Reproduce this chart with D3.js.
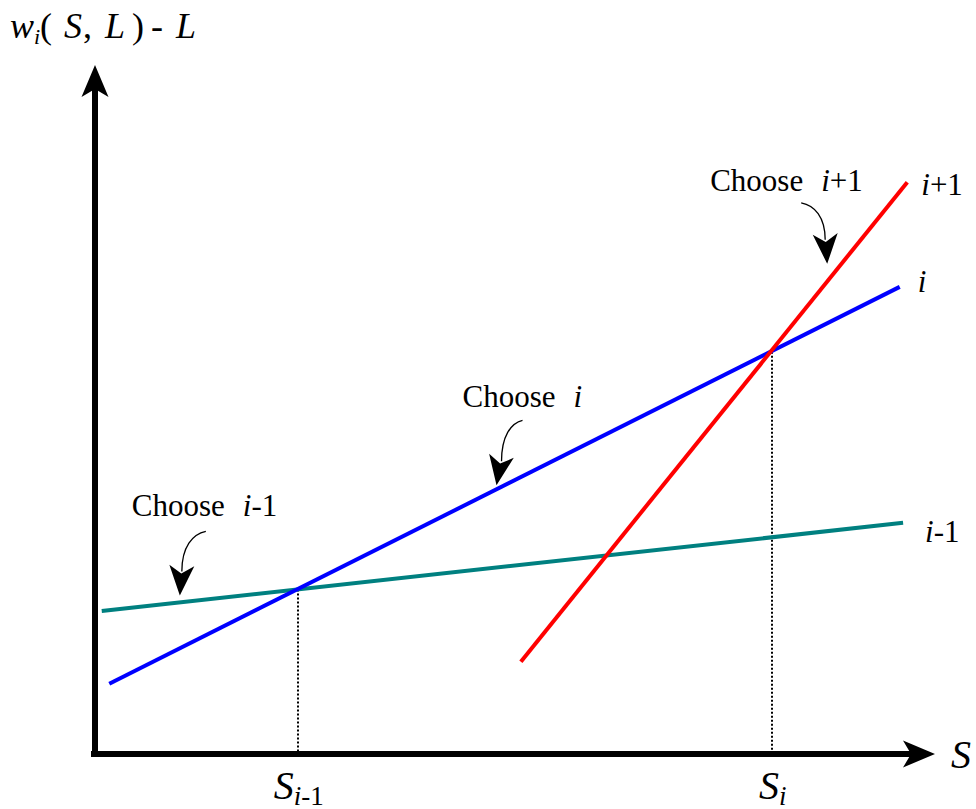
<!DOCTYPE html>
<html>
<head>
<meta charset="utf-8">
<script src="https://cdn.jsdelivr.net/npm/d3@7"></script>
<style>
  html, body { margin: 0; padding: 0; background: #fff; }
  svg { display: block; }
  text { font-family: "Liberation Serif", "Times New Roman", serif; fill: #000; }
</style>
</head>
<body>
<svg id="chart" width="976" height="809"></svg>
<script>
// ---------- data (abstract units) ----------
const seriesNames = ["i-1", "i", "i+1"];
const xStart = [0.08, 0.17, 5.07];
const xEnd   = [9.62, 9.58, 9.67];
const yStart = [2.075, 1.02, 1.34];
const yEnd   = [3.355, 6.78, 8.30];
const tickSubscripts = ["i-1", "i"];          // S_{i-1}, S_i at crossings
const crossingPairs = [[0, 1], [1, 2]];
const calloutSeries = [0, 1, 2];              // "Choose ..." callouts
const calloutX = [1.01, 4.78, 8.8];

// ---------- styles ----------
const colors = ["#008080", "#0000ff", "#ff0000"];

const svg = d3.select("#chart");
const x = d3.scaleLinear().domain([0, 10]).range([95, 935]);
const y = d3.scaleLinear().domain([0, 10]).range([754, 65]);

const lines = seriesNames.map((n, i) => ({
  name: n, x0: xStart[i], x1: xEnd[i], y0: yStart[i], y1: yEnd[i],
  m: (yEnd[i] - yStart[i]) / (xEnd[i] - xStart[i])
}));
lines.forEach(l => { l.b = l.y0 - l.m * l.x0; });
const valAt = (l, xv) => l.m * xv + l.b;

// ---------- crossings (dotted drop lines) ----------
const crossings = crossingPairs.map(([a, b], k) => {
  const la = lines[a], lb = lines[b];
  const xv = (lb.b - la.b) / (la.m - lb.m);
  return { x: xv, y: valAt(la, xv), sub: tickSubscripts[k] };
});

svg.selectAll("line.drop").data(crossings).join("line")
  .attr("class", "drop")
  .attr("x1", d => Math.round(x(d.x)) + 1).attr("x2", d => Math.round(x(d.x)) + 1)
  .attr("y1", d => y(d.y)).attr("y2", y(0))
  .attr("stroke", "#000").attr("stroke-width", 2)
  .attr("stroke-dasharray", "2,2");

// ---------- series lines ----------
svg.selectAll("line.series").data(lines).join("line")
  .attr("class", "series")
  .attr("x1", d => x(d.x0)).attr("y1", d => y(d.y0))
  .attr("x2", d => x(d.x1)).attr("y2", d => y(d.y1))
  .attr("stroke", (d, i) => colors[i]).attr("stroke-width", 4);

// ---------- axes ----------
const x0p = x(0), y0p = y(0);
svg.append("line")
  .attr("x1", x0p - 4).attr("x2", x(10) - 24)
  .attr("y1", y0p).attr("y2", y0p)
  .attr("stroke", "#000").attr("stroke-width", 6);
svg.append("line")
  .attr("x1", x0p).attr("x2", x0p)
  .attr("y1", y0p + 3).attr("y2", y(10) + 24)
  .attr("stroke", "#000").attr("stroke-width", 6);

// arrowheads
function arrowHead(tx, ty, angle, len, half, notch) {
  const c = Math.cos(angle), s = Math.sin(angle);
  const pt = (a, b) => [tx + a * c - b * s, ty + a * s + b * c];
  const p = [pt(0, 0), pt(-len, -half), pt(-len + notch, 0), pt(-len, half)];
  return "M" + p.map(q => q.join(",")).join("L") + "Z";
}
svg.append("path").attr("d", arrowHead(x(10), y0p, 0, 32, 13.5, 8)).attr("fill", "#000");
svg.append("path").attr("d", arrowHead(x0p, y(10), -Math.PI / 2, 32, 13.5, 8)).attr("fill", "#000");

// ---------- axis labels ----------
const title = svg.append("text").attr("y", 38).attr("font-size", 36);
title.append("tspan").attr("x", 10).attr("font-style", "italic").text("w");
title.append("tspan").attr("x", 34).attr("dy", 6).attr("font-size", 22).attr("font-style", "italic").text("i");
title.append("tspan").attr("x", 40).attr("dy", -6).text("(");
title.append("tspan").attr("x", 64).attr("font-style", "italic").text("S");
title.append("tspan").attr("x", 83).text(",");
title.append("tspan").attr("x", 105).attr("font-style", "italic").text("L");
title.append("tspan").attr("x", 132).text(")");
title.append("tspan").attr("x", 151).text("-");
title.append("tspan").attr("x", 176).attr("font-style", "italic").text("L");

svg.append("text").attr("x", x(10) + 16).attr("y", 768)
  .attr("font-size", 40).attr("font-style", "italic").text("S");

// tick labels at crossings
crossings.forEach(d => {
  const t = svg.append("text")
    .attr("x", x(d.x) + 2).attr("y", 799)
    .attr("text-anchor", "middle").attr("font-size", 40).attr("font-style", "italic");
  t.append("tspan").text("S");
  t.append("tspan").attr("dy", 6).attr("font-size", 27).text(d.sub[0]);
  if (d.sub.length > 1)
    t.append("tspan").attr("font-style", "normal").attr("font-size", 27).text(d.sub.slice(1));
});

// ---------- line end labels ----------
const endOffsets = [[22, 19], [18, 5], [14, 13]];
lines.forEach((l, i) => {
  const t = svg.append("text")
    .attr("x", x(l.x1) + endOffsets[i][0]).attr("y", y(l.y1) + endOffsets[i][1])
    .attr("font-size", 31);
  t.append("tspan").attr("font-style", "italic").text("i");
  if (l.name.length > 1) t.append("tspan").text(l.name.slice(1));
});

// ---------- callouts ----------
const calloutLabel = [[-48, -79], [-34, -78], [-117, -73]];
const calloutStart = [[26, -64], [26, -65], [-26, -61]];
const calloutLean = [2, 5, -2];
const tipShift = [[0, -7], [0, -4], [-7, -9]];

calloutSeries.forEach((si, k) => {
  const l = lines[si];
  const tx = x(calloutX[k]) + tipShift[k][0];
  const ty = y(valAt(l, calloutX[k])) + tipShift[k][1];
  const sx = tx + calloutStart[k][0], sy = ty + calloutStart[k][1];
  const headLen = 30;
  const bx = tx + calloutLean[k], by = ty - headLen;
  const ang = Math.atan2(ty - by, tx - bx);
  const ex = bx, ey = by + 6;
  const path = d3.path();
  path.moveTo(sx, sy);
  path.bezierCurveTo(sx + (bx - sx) * 0.55, sy + (by - sy) * 0.08,
                     bx, sy + (by - sy) * 0.45, ex, ey);
  svg.append("path").attr("d", path.toString())
    .attr("fill", "none").attr("stroke", "#000").attr("stroke-width", 1.3);
  svg.append("path").attr("d", arrowHead(tx, ty, ang, headLen, 12.5, 8)).attr("fill", "#000");

  const t = svg.append("text")
    .attr("x", tx + calloutLabel[k][0]).attr("y", ty + calloutLabel[k][1])
    .attr("font-size", 31);
  t.append("tspan").text("Choose");
  t.append("tspan").attr("dx", 18).attr("font-style", "italic").text("i");
  if (l.name.length > 1) t.append("tspan").text(l.name.slice(1));
});
</script>
</body>
</html>
